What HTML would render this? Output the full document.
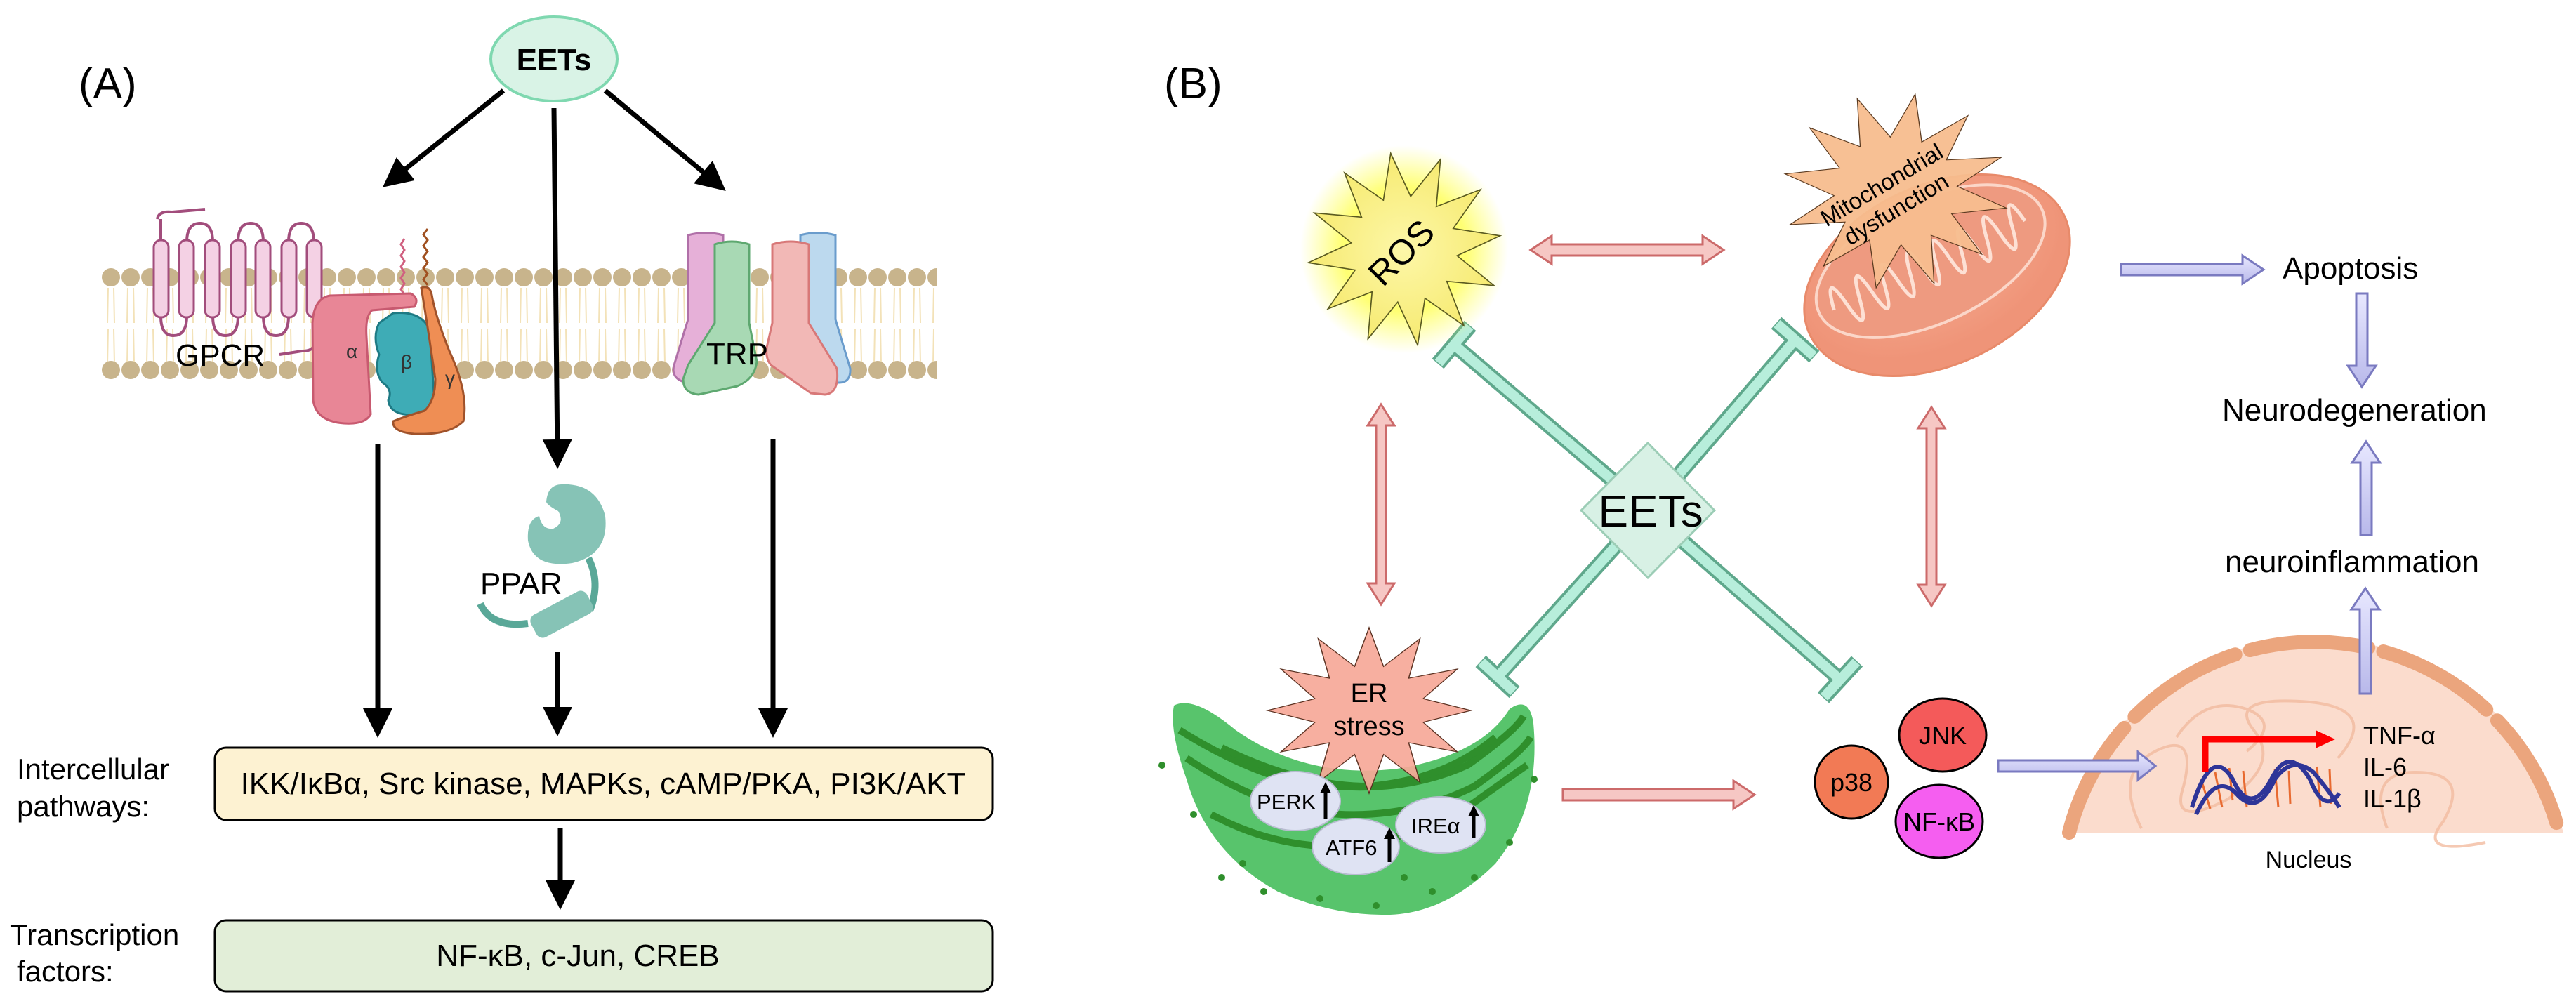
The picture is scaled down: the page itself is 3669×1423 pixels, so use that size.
<!DOCTYPE html>
<html><head><meta charset="utf-8"><style>
html,body{margin:0;padding:0;background:#fff;width:3669px;height:1423px;overflow:hidden;}
svg{display:block;}
text{font-family:"Liberation Sans",sans-serif;}
</style></head><body>
<svg width="3669" height="1423" viewBox="0 0 3669 1423" xmlns="http://www.w3.org/2000/svg">
<defs>
<marker id="ah" markerWidth="6" markerHeight="6" refX="4" refY="3" orient="auto" markerUnits="strokeWidth">
<path d="M0,0 L6,3 L0,6 Z" fill="#000"/></marker>
<pattern id="mem" x="144" y="0" width="28" height="1423" patternUnits="userSpaceOnUse">
<line x1="10" y1="410" x2="9" y2="460" stroke="#f3e2b8" stroke-width="2"/>
<line x1="18" y1="410" x2="19" y2="460" stroke="#f3e2b8" stroke-width="2"/>
<line x1="10" y1="468" x2="9" y2="518" stroke="#f3e2b8" stroke-width="2"/>
<line x1="18" y1="468" x2="19" y2="518" stroke="#f3e2b8" stroke-width="2"/>
<circle cx="14" cy="395" r="13" fill="#c8b48c"/>
<circle cx="14" cy="527" r="13" fill="#c8b48c"/>
</pattern>
<polygon id="star" points="1,0 .531,.142 .866,.5 .389,.389 .5,.866 .142,.531 0,1 -.142,.531 -.5,.866 -.389,.389 -.866,.5 -.531,.142 -1,0 -.531,-.142 -.866,-.5 -.389,-.389 -.5,-.866 -.142,-.531 0,-1 .142,-.531 .5,-.866 .389,-.389 .866,-.5 .531,-.142"/>
<radialGradient id="rosg"><stop offset="0" stop-color="#fdf7a8"/><stop offset="1" stop-color="#f6ea70"/></radialGradient>
<radialGradient id="glow"><stop offset="0.6" stop-color="#ffff50" stop-opacity="0.8"/><stop offset="1" stop-color="#ffff60" stop-opacity="0"/></radialGradient>
<radialGradient id="mitog" cx="0.5" cy="0.4"><stop offset="0" stop-color="#f8ae94"/><stop offset="1" stop-color="#ef9478"/></radialGradient>
<linearGradient id="purp" x1="0" y1="0" x2="0" y2="1"><stop offset="0" stop-color="#e8e8ff"/><stop offset="1" stop-color="#b8b8ea"/></linearGradient>
</defs>

<!-- ============ PANEL A ============ -->
<text x="112" y="140" font-size="62">(A)</text>
<rect x="144" y="378" width="1190" height="165" fill="url(#mem)"/>

<g stroke="#000" stroke-width="7" fill="none">
<line x1="717" y1="129" x2="556" y2="258" marker-end="url(#ah)"/>
<line x1="789" y1="154" x2="794" y2="654" marker-end="url(#ah)"/>
<line x1="862" y1="129" x2="1023" y2="263" marker-end="url(#ah)"/>
<line x1="538" y1="633" x2="538" y2="1037" marker-end="url(#ah)"/>
<line x1="794" y1="929" x2="794" y2="1035" marker-end="url(#ah)"/>
<line x1="1101" y1="625" x2="1101" y2="1037" marker-end="url(#ah)"/>
<line x1="798" y1="1180" x2="798" y2="1282" marker-end="url(#ah)"/>
</g>

<ellipse cx="789" cy="84" rx="90" ry="60" fill="#d9f3e6" stroke="#7fd8b0" stroke-width="4"/>
<text x="789" y="100" font-size="44" font-weight="bold" text-anchor="middle">EETs</text>

<g fill="none" stroke="#a24d7c" stroke-width="4">
<path d="M224,312 Q226,300 245,302 L292,298"/>
<path d="M229,312 L229,345"/>
<path d="M266,345 Q266,318 285,318 Q303,318 303,345"/>
<path d="M339,345 Q339,318 357,318 Q375,318 375,345"/>
<path d="M411,345 Q411,318 429,318 Q447,318 447,345"/>
<path d="M229,450 Q229,478 247,478 Q266,478 266,450"/>
<path d="M303,450 Q303,478 321,478 Q339,478 339,450"/>
<path d="M375,450 Q375,478 393,478 Q411,478 411,450"/>
<path d="M447,450 L447,490 Q447,500 430,500 L398,505"/>
</g>
<g fill="#f4d1e4" stroke="#a24d7c" stroke-width="3">
<rect x="219" y="342" width="21" height="110" rx="10"/>
<rect x="255" y="342" width="21" height="110" rx="10"/>
<rect x="292" y="342" width="21" height="110" rx="10"/>
<rect x="329" y="342" width="21" height="110" rx="10"/>
<rect x="364" y="342" width="21" height="110" rx="10"/>
<rect x="401" y="342" width="21" height="110" rx="10"/>
<rect x="437" y="342" width="21" height="110" rx="10"/>
</g>
<text x="250" y="521" font-size="44">GPCR</text>

<path d="M576,340 l-5,8 l5,8 l-5,8 l5,8 l-5,8 l5,8 l-5,8 l5,8 l-5,8 l5,8" fill="none" stroke="#d06080" stroke-width="3"/>
<path d="M609,326 l-6,8 l6,8 l-6,8 l6,8 l-6,8 l6,8 l-6,8 l6,8 l-6,8 l6,8" fill="none" stroke="#a05020" stroke-width="3"/>
<path d="M470,421 L585,418 Q598,425 590,437 L530,442 Q520,450 522,480 L528,590 Q520,605 490,603 Q450,600 446,570 L445,460 Q447,425 470,421 Z" fill="#e88696" stroke="#c85a70" stroke-width="3"/>
<path d="M560,446 Q600,442 612,470 L618,560 Q616,588 585,591 Q555,590 553,570 Q560,555 545,545 Q532,530 540,505 Q530,480 540,460 Z" fill="#3eacb6" stroke="#1e7a84" stroke-width="3"/>
<path d="M600,410 Q612,405 615,420 Q620,450 640,500 Q668,560 660,600 Q640,620 590,618 Q558,615 560,600 Q580,592 605,585 Q620,570 620,540 Q610,470 600,410 Z" fill="#ef8e54" stroke="#a0522a" stroke-width="3"/>
<text x="493" y="510" font-size="28" fill="#333">α</text>
<text x="571" y="525" font-size="28" fill="#333">β</text>
<text x="634" y="548" font-size="28" fill="#333">γ</text>

<path d="M980,335 Q1005,328 1030,335 L1030,455 L1057,525 Q1060,545 1040,545 L978,545 Q955,540 960,520 L980,455 Z" fill="#e6b0d8" stroke="#b070a8" stroke-width="3"/>
<path d="M1140,335 Q1165,328 1190,335 L1190,455 L1211,525 Q1212,545 1195,545 L1140,545 Z" fill="#bcd9ee" stroke="#6a9ccc" stroke-width="3"/>
<path d="M1018,348 Q1042,340 1067,348 L1067,460 L1078,515 Q1075,540 1050,550 L995,562 Q973,560 973,540 L980,520 L1018,460 Z" fill="#a8d9b4" stroke="#5ea870" stroke-width="3"/>
<path d="M1100,348 Q1126,340 1152,348 L1152,460 L1192,525 Q1196,560 1175,562 L1155,560 L1098,520 Q1090,510 1092,495 L1100,460 Z" fill="#f2b8b6" stroke="#d87878" stroke-width="3"/>
<text x="1006" y="519" font-size="44">TRP</text>

<path d="M800,690 Q850,688 862,735 Q868,790 815,802 Q760,810 752,770 Q750,740 768,735 Q772,755 788,753 Q805,745 795,728 Q780,720 778,715 Q780,690 800,690 Z" fill="#86c3b6"/>
<path d="M838,795 Q856,830 840,870" fill="none" stroke="#5aa898" stroke-width="10"/>
<path d="M684,860 Q700,895 752,888" fill="none" stroke="#5aa898" stroke-width="10"/>
<rect x="755" y="857" width="90" height="36" rx="10" transform="rotate(-28 800 875)" fill="#86c3b6"/>
<text x="684" y="846" font-size="44">PPAR</text>

<rect x="306" y="1065" width="1108" height="103" rx="16" fill="#fdf2d2" stroke="#000" stroke-width="3"/>
<text x="859" y="1131" font-size="44" text-anchor="middle">IKK/IκBα, Src kinase, MAPKs, cAMP/PKA, PI3K/AKT</text>
<rect x="306" y="1311" width="1108" height="101" rx="16" fill="#e2eed8" stroke="#000" stroke-width="3"/>
<text x="823" y="1376" font-size="44" text-anchor="middle">NF-κB, c-Jun, CREB</text>
<text x="24" y="1110" font-size="42">Intercellular</text>
<text x="24" y="1163" font-size="42">pathways:</text>
<text x="14" y="1346" font-size="42">Transcription</text>
<text x="24" y="1398" font-size="42">factors:</text>

<!-- ============ PANEL B ============ -->
<text x="1658" y="140" font-size="62">(B)</text>

<g stroke-linecap="butt">
<g stroke="#5fa88c" stroke-width="22">
<line x1="2347" y1="727" x2="2071" y2="491"/>
<line x1="2347" y1="727" x2="2557" y2="484"/>
<line x1="2347" y1="727" x2="2133" y2="964"/>
<line x1="2347" y1="727" x2="2621" y2="968"/>
<line x1="2094" y1="464" x2="2048" y2="518"/>
<line x1="2530" y1="460" x2="2584" y2="508"/>
<line x1="2109" y1="942" x2="2157" y2="986"/>
<line x1="2645" y1="942" x2="2597" y2="994"/>
</g>
<g stroke="#b7eedb" stroke-width="14">
<line x1="2347" y1="727" x2="2071" y2="491"/>
<line x1="2347" y1="727" x2="2557" y2="484"/>
<line x1="2347" y1="727" x2="2133" y2="964"/>
<line x1="2347" y1="727" x2="2621" y2="968"/>
<line x1="2093" y1="465" x2="2049" y2="517"/>
<line x1="2531" y1="461" x2="2583" y2="507"/>
<line x1="2110" y1="943" x2="2156" y2="985"/>
<line x1="2644" y1="943" x2="2598" y2="993"/>
</g>
</g>

<polygon points="2347,631 2442,727 2347,823 2252,727" fill="#d8f1e5" stroke="#9ccdb6" stroke-width="3"/>
<text x="2351" y="750" font-size="64" text-anchor="middle">EETs</text>

<!-- ROS -->
<circle cx="2000" cy="355" r="148" fill="url(#glow)"/>
<use href="#star" transform="translate(2000 355) scale(138) rotate(-8)" fill="url(#rosg)" stroke="#5a5a20" stroke-width="0.012"/>
<text x="0" y="0" font-size="50" text-anchor="middle" transform="translate(2008 372) rotate(-45)">ROS</text>

<!-- Mitochondrion -->
<g transform="rotate(-25 2759 392)">
<ellipse cx="2759" cy="392" rx="200" ry="128" fill="url(#mitog)" stroke="#e88a6a" stroke-width="3"/>
<ellipse cx="2759" cy="370" rx="175" ry="88" fill="#ee9a80" stroke="#fbd6c8" stroke-width="4"/>
<path d="M2605,375 q10,-60 20,0 q10,60 20,0 q10,-60 20,0 q10,60 20,0 q10,-60 20,0 q10,60 20,0 q10,-60 20,0 q10,60 20,0 q10,-60 20,0 q10,60 20,0 q10,-60 20,0 q10,60 20,0 q10,-60 20,0 q10,60 20,0 q10,-60 20,0" fill="none" stroke="#fde0d4" stroke-width="5"/>
</g>
<use href="#star" transform="translate(2700 272) scale(160 140) rotate(10)" fill="#f7bd8e" fill-opacity="0.95" stroke="#5a3a20" stroke-width="0.008"/>
<g transform="translate(2690 280) rotate(-31)" font-size="33" text-anchor="middle">
<text x="0" y="-8">Mitochondrial</text>
<text x="0" y="32">dysfunction</text>
</g>

<g fill="#f6c7c4" stroke="#cc6a6a" stroke-width="3">
<polygon points="2180,356 2210,336 2210,348 2425,348 2425,336 2455,356 2425,376 2425,364 2210,364 2210,376"/>
<polygon points="1967,576 1986,606 1974,606 1974,831 1986,831 1967,861 1948,831 1960,831 1960,606 1948,606"/>
<polygon points="2751,580 2770,610 2758,610 2758,833 2770,833 2751,863 2732,833 2744,833 2744,610 2732,610"/>
<polygon points="2226,1124 2469,1124 2469,1112 2499,1132 2469,1152 2469,1140 2226,1140"/>
</g>

<g fill="url(#purp)" stroke="#7a7ac0" stroke-width="3">
<polygon points="3021,376 3194,376 3194,364 3224,384 3194,404 3194,392 3021,392"/>
<polygon points="3356,418 3372,418 3372,521 3384,521 3364,551 3344,521 3356,521"/>
<polygon points="3370,629 3390,659 3378,659 3378,762 3362,762 3362,659 3350,659"/>
</g>
<text x="3251" y="397" font-size="44">Apoptosis</text>
<text x="3165" y="599" font-size="44">Neurodegeneration</text>
<text x="3169" y="815" font-size="44">neuroinflammation</text>

<!-- ER -->
<path d="M1672,1005 Q1700,990 1760,1040 Q1860,1110 1990,1095 Q2110,1075 2150,1010 Q2178,990 2184,1030 Q2195,1150 2130,1230 Q2060,1300 1980,1303 Q1900,1305 1820,1270 Q1720,1215 1690,1110 Q1665,1040 1672,1005 Z" fill="#58c46c"/>
<g fill="none" stroke="#2f8f2c" stroke-width="10">
<path d="M1680,1040 Q1760,1090 1830,1110 Q1980,1140 2090,1090 Q2160,1040 2170,1020"/>
<path d="M1690,1080 Q1780,1140 1860,1155 Q1990,1175 2100,1120 Q2170,1070 2180,1050"/>
<path d="M1725,1160 Q1800,1200 1880,1205 Q2000,1205 2090,1150 Q2160,1100 2175,1090"/>
<path d="M1740,1065 Q1850,1120 1950,1120 Q2060,1110 2130,1050"/>
</g>
<g fill="#2f8f2c">
<circle cx="1655" cy="1090" r="5"/><circle cx="1700" cy="1160" r="5"/><circle cx="1740" cy="1250" r="5"/>
<circle cx="1800" cy="1270" r="5"/><circle cx="1880" cy="1280" r="5"/><circle cx="1960" cy="1290" r="5"/>
<circle cx="2040" cy="1270" r="5"/><circle cx="2100" cy="1250" r="5"/><circle cx="2150" cy="1200" r="5"/>
<circle cx="2185" cy="1110" r="5"/><circle cx="1770" cy="1230" r="5"/><circle cx="2000" cy="1250" r="5"/>
</g>
<use href="#star" transform="translate(1950 1012) scale(145 118)" fill="#f6a898" fill-opacity="0.92" stroke="#5a3020" stroke-width="0.01"/>
<text x="1950" y="1000" font-size="38" text-anchor="middle">ER</text>
<text x="1950" y="1047" font-size="38" text-anchor="middle">stress</text>
<g fill="#dfe3f3" stroke="#b8bcd0" stroke-width="2">
<ellipse cx="1845" cy="1141" rx="64" ry="42"/>
<ellipse cx="2052" cy="1175" rx="64" ry="40"/>
<ellipse cx="1931" cy="1206" rx="62" ry="40"/>
</g>
<g font-size="31">
<text x="1790" y="1153">PERK</text>
<text x="1888" y="1218">ATF6</text>
<text x="2010" y="1187">IREα</text>
</g>
<g stroke="#000" stroke-width="5">
<line x1="1888" y1="1166" x2="1888" y2="1127"/><polygon points="1880,1130 1888,1114 1896,1130" fill="#000" stroke="none"/>
<line x1="1979" y1="1228" x2="1979" y2="1192"/><polygon points="1971,1195 1979,1179 1987,1195" fill="#000" stroke="none"/>
<line x1="2099" y1="1193" x2="2099" y2="1160"/><polygon points="2091,1163 2099,1147 2107,1163" fill="#000" stroke="none"/>
</g>

<ellipse cx="2637" cy="1114" rx="52" ry="52" fill="#f27a55" stroke="#000" stroke-width="3"/>
<ellipse cx="2767" cy="1047" rx="62" ry="52" fill="#f45a5a" stroke="#000" stroke-width="3"/>
<ellipse cx="2762" cy="1170" rx="62" ry="52" fill="#f55ef0" stroke="#000" stroke-width="3"/>
<text x="2637" y="1127" font-size="36" text-anchor="middle">p38</text>
<text x="2767" y="1060" font-size="36" text-anchor="middle">JNK</text>
<text x="2762" y="1183" font-size="36" text-anchor="middle">NF-κB</text>

<!-- Nucleus (arc segment, no overflow) -->
<path d="M2941,1186 A366,366 0 0 1 3651,1186 Z" fill="#fbdccd"/>
<path d="M2947,1186 A360,360 0 0 1 3645,1186" fill="none" stroke="#eba57d" stroke-width="20" stroke-dasharray="170 22" stroke-linecap="round"/>
<g fill="none" stroke="#f2bba0" stroke-width="4" opacity="0.8">
<path d="M3050,1180 q-40,-80 20,-110 q60,-30 40,50 q-20,60 60,20 q80,-50 40,-100 q-40,-50 80,-40 q100,10 40,80"/>
<path d="M3400,1180 q-30,-80 40,-80 q80,0 40,70 q-40,50 60,30"/>
<path d="M3100,1050 q40,-60 100,-40 q50,20 0,60"/>
</g>
<g fill="url(#purp)" stroke="#7a7ac0" stroke-width="3">
<polygon points="2846,1083 3045,1083 3045,1071 3070,1091 3045,1111 3045,1099 2846,1099"/>
<polygon points="3369,838 3389,868 3377,868 3377,988 3361,988 3361,868 3349,868"/>
</g>
<g fill="none">
<g stroke="#e86a30" stroke-width="3">
<line x1="3135" y1="1110" x2="3148" y2="1152"/><line x1="3155" y1="1100" x2="3165" y2="1150"/>
<line x1="3175" y1="1094" x2="3180" y2="1140"/><line x1="3195" y1="1098" x2="3200" y2="1150"/>
<line x1="3240" y1="1095" x2="3245" y2="1150"/><line x1="3260" y1="1098" x2="3262" y2="1145"/>
<line x1="3300" y1="1092" x2="3305" y2="1150"/><line x1="3318" y1="1095" x2="3320" y2="1145"/>
</g>
<path d="M3122,1150 Q3150,1060 3180,1110 Q3205,1165 3235,1110 Q3260,1060 3290,1110 Q3310,1160 3332,1130" stroke="#2e3598" stroke-width="6"/>
<path d="M3128,1160 Q3155,1100 3185,1130 Q3215,1165 3240,1110 Q3265,1075 3295,1100 Q3320,1130 3332,1150" stroke="#2e3598" stroke-width="6"/>
</g>
<path d="M3141,1099 L3141,1053 L3302,1053" fill="none" stroke="#f00" stroke-width="9"/>
<polygon points="3298,1040 3326,1053 3298,1066" fill="#f00"/>
<g font-size="36">
<text x="3366" y="1060">TNF-α</text>
<text x="3366" y="1105">IL-6</text>
<text x="3366" y="1150">IL-1β</text>
</g>
<text x="3288" y="1236" font-size="34" text-anchor="middle">Nucleus</text>
</svg>
</body></html>
